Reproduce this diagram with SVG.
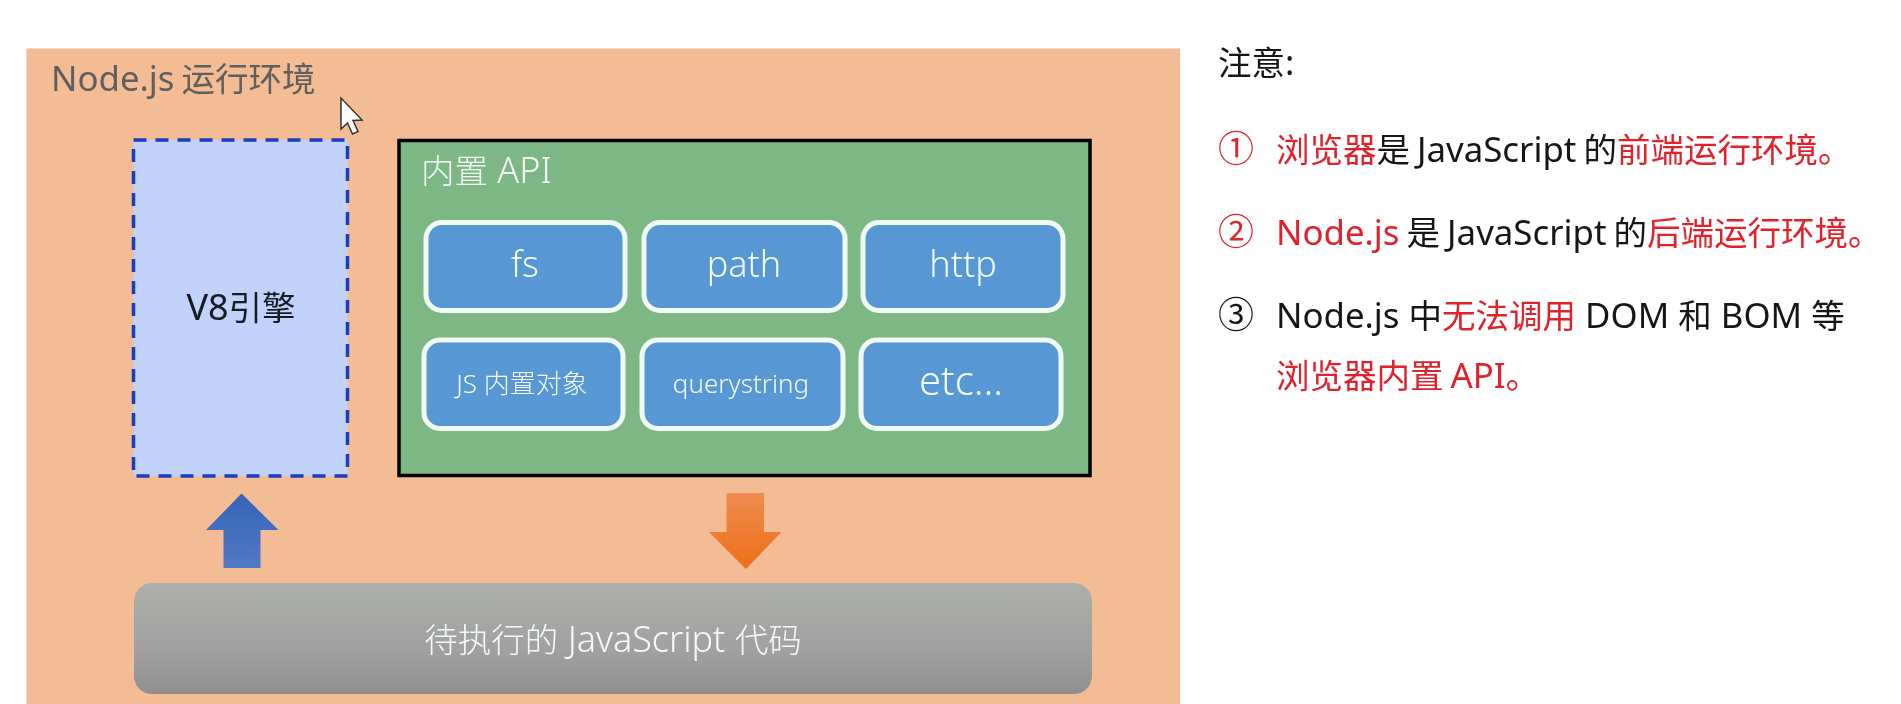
<svg xmlns="http://www.w3.org/2000/svg" width="1901" height="704" viewBox="0 0 1901 704">
<style>
text{font-family:"Noto Sans","Noto Sans CJK SC",sans-serif;font-weight:400;font-size:34.8px;word-spacing:-2px;filter:url(#soft)}
.z{font-size:33.5px}
.c{text-anchor:middle}
.w{fill:#f4faf6;font-weight:300;font-size:36px;word-spacing:0}
.box{fill:#5797d3;stroke:#f2faf6;stroke-width:5}
.n{fill:#151515}
.r{fill:#e0202a}
.o{font-size:36px}
</style>
<defs>
<filter id="soft" x="-5%" y="-20%" width="110%" height="140%"><feGaussianBlur stdDeviation="0.45"/></filter>
<linearGradient id="gg" x1="0" y1="0" x2="0" y2="1"><stop offset="0" stop-color="#adafac"/><stop offset="0.6" stop-color="#a0a1a0"/><stop offset="1" stop-color="#8e8f8e"/></linearGradient>
<linearGradient id="gb" x1="0" y1="0" x2="0" y2="1"><stop offset="0" stop-color="#3465b8"/><stop offset="1" stop-color="#5379c4"/></linearGradient>
<linearGradient id="go" x1="0" y1="0" x2="0" y2="1"><stop offset="0" stop-color="#f08c50"/><stop offset="1" stop-color="#ec6f17"/></linearGradient>
</defs>
<rect width="1901" height="704" fill="#fff"/>
<g id="runtime">
<rect x="26.5" y="48.5" width="1153.5" height="656" fill="#f4bc95"/>
<text x="51" y="91" fill="#5f5f5f">Node.js <tspan class="z">运行环境</tspan></text>
</g>
<g id="v8">
<rect x="133.5" y="140" width="214" height="336" fill="#c1d2fb" stroke="#1a3cc0" stroke-width="3.500" stroke-dasharray="13 9"/>
<text class="c" x="241" y="320" fill="#151a20" style="font-size:36px">V8<tspan class="z">引擎</tspan></text>
</g>
<g id="api">
<rect x="399" y="140.500" width="691" height="335" fill="#7cb784" stroke="#000" stroke-width="3.500"/>
<text x="421" y="183" class="w"><tspan class="z">内置</tspan> API</text>
</g>
<g id="fs"><rect class="box" x="426" y="222.500" width="199" height="88" rx="16"/><text class="c w" x="525" y="277">fs</text></g>
<g id="path"><rect class="box" x="644" y="222.500" width="201" height="88" rx="16"/><text class="c w" x="744" y="277">path</text></g>
<g id="http"><rect class="box" x="863" y="222.500" width="200" height="88" rx="16"/><text class="c w" x="963" y="277">http</text></g>
<g id="jsobj"><rect class="box" x="424" y="340" width="199" height="88.500" rx="16"/><text class="c w" x="522" y="393" style="font-size:26px">JS 内置对象</text></g>
<g id="querystring"><rect class="box" x="642" y="340" width="201" height="88.500" rx="16"/><text class="c w" x="741" y="393" style="font-size:26px">querystring</text></g>
<g id="etc"><rect class="box" x="861" y="340" width="200" height="88.500" rx="16"/><text class="c w" x="961" y="395" style="font-size:40px">etc...</text></g>
<g id="code">
<rect x="134" y="583" width="958" height="111" rx="18" fill="url(#gg)"/>
<text class="c w" x="613" y="652"><tspan class="z">待执行的</tspan> JavaScript <tspan class="z">代码</tspan></text>
</g>
<g id="connectors">
<polygon points="241.500,493.500 278.500,530 260.500,530 260.500,568 223.500,568 223.500,530 206,530" fill="url(#gb)"/>
<polygon points="726.500,493 764,493 764,532 781.500,532 746,569 709,532 726.500,532" fill="url(#go)"/>
</g>
<g id="cursor">
<polygon points="341,98 341,129 347.500,123 352.500,134 358,131.500 353,120.500 362,120" fill="#fff" stroke="#333" stroke-width="1.500"/>
</g>
<g id="notes">
<text class="n" x="1218" y="75"><tspan class="z">注意</tspan>:</text>
<text class="n o r" x="1218" y="162">①</text>
<text class="n" x="1276" y="162"><tspan class="r z">浏览器</tspan><tspan class="z">是</tspan> JavaScript <tspan class="z">的</tspan><tspan class="r z">前端运行环境。</tspan></text>
<text class="n o r" x="1218" y="245">②</text>
<text class="n" x="1276" y="245"><tspan class="r">Node.js</tspan> <tspan class="z">是</tspan> JavaScript <tspan class="z">的</tspan><tspan class="r z">后端运行环境。</tspan></text>
<text class="n o" x="1218" y="328">③</text>
<text class="n" x="1276" y="328" style="word-spacing:0">Node.js <tspan class="z">中</tspan><tspan class="r z">无法调用</tspan> DOM <tspan class="z">和</tspan> BOM <tspan class="z">等</tspan></text>
<text class="n r" x="1276" y="388"><tspan class="z">浏览器内置</tspan> API<tspan class="z">。</tspan></text>
</g>
</svg>
